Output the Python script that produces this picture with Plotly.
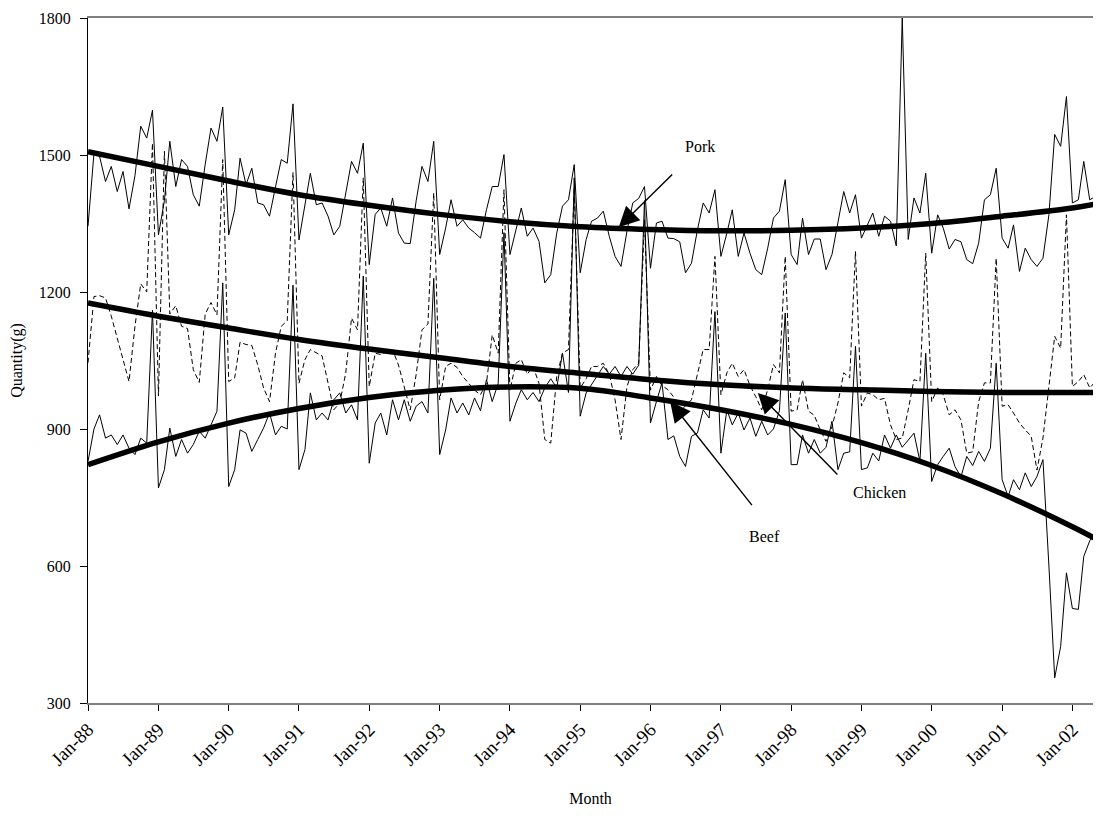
import plotly.graph_objects as go
import pandas as pd

# ---------------- data ----------------
start_month = "1988-01-01"
n_months = 174

pork = [
    1344, 1504, 1497, 1442, 1475, 1420, 1464, 1382, 1455, 1563, 1537, 1598,
    1325, 1400, 1530, 1431, 1490, 1475, 1413, 1388, 1480, 1559, 1530, 1605,
    1325, 1380, 1493, 1435, 1471, 1395, 1391, 1366, 1430, 1490, 1482, 1612,
    1314, 1390, 1460, 1391, 1395, 1366, 1325, 1344, 1420, 1486, 1460, 1526,
    1260, 1370, 1384, 1344, 1406, 1329, 1307, 1306, 1400, 1475, 1442, 1530,
    1282, 1340, 1402, 1344, 1358, 1340, 1330, 1318, 1380, 1431, 1431, 1501,
    1282, 1336, 1384, 1322, 1340, 1311, 1220, 1238, 1329, 1388, 1402, 1479,
    1242, 1315, 1355, 1362, 1377, 1322, 1278, 1256, 1333, 1395, 1405, 1431,
    1252, 1351, 1355, 1318, 1317, 1310, 1242, 1263, 1336, 1395, 1373, 1424,
    1278, 1329, 1380, 1278, 1329, 1285, 1249, 1238, 1296, 1362, 1377, 1446,
    1282, 1260, 1362, 1282, 1316, 1316, 1249, 1282, 1355, 1420, 1373, 1413,
    1318, 1345, 1373, 1322, 1366, 1355, 1301, 1800, 1315, 1406, 1373, 1460,
    1285, 1369, 1340, 1294, 1315, 1310, 1271, 1262, 1307, 1402, 1413, 1471,
    1318, 1296, 1347, 1245, 1296, 1271, 1256, 1274, 1369, 1545, 1519, 1628,
    1395, 1402, 1486, 1402, 1409, 1410,
]

beef = [
    829, 900, 931, 880, 887, 866, 887, 858, 844, 880, 869, 1160,
    771, 811, 902, 840, 877, 847, 866, 895, 880, 909, 939, 1220,
    774, 811, 898, 891, 851, 877, 902, 935, 887, 906, 900, 1215,
    811, 855, 979, 920, 935, 920, 964, 979, 935, 953, 920, 1235,
    825, 913, 935, 887, 964, 920, 964, 917, 950, 960, 935, 1230,
    844, 898, 968, 935, 957, 931, 968, 940, 1008, 960, 1000, 1330,
    917, 957, 986, 964, 980, 960, 990, 1010, 990, 1066, 980, 1450,
    928, 979, 997, 1015, 1037, 1020, 1037, 1015, 1037, 1020, 1040, 1400,
    913, 960, 1001, 877, 885, 840, 818, 884, 891, 942, 924, 1157,
    847, 942, 909, 935, 898, 924, 884, 917, 887, 900, 940, 1154,
    822, 822, 887, 847, 877, 847, 860, 917, 811, 847, 850, 1081,
    811, 815, 847, 830, 887, 858, 887, 860, 877, 891, 829, 1066,
    785, 822, 840, 858, 818, 795, 840, 820, 851, 829, 858, 1044,
    789, 752, 789, 767, 804, 774, 796, 833, 600, 355, 424, 585,
    507, 505, 621, 655, 677, 670,
]

chicken = [
    1045, 1190, 1192, 1187, 1147, 1100, 1055, 1004, 1125, 1218, 1200, 1526,
    972, 1508, 1152, 1170, 1125, 1120, 1030, 1002, 1152, 1177, 1150, 1490,
    1004, 1012, 1090, 1085, 1083, 1040, 990, 960, 1066, 1125, 1137, 1462,
    1000, 1052, 1074, 1066, 1060, 1001, 942, 957, 1023, 1143, 1117, 1450,
    993, 1066, 1063, 1070, 1074, 1040, 990, 942, 1020, 1117, 1130, 1417,
    964, 1037, 1044, 1035, 1015, 1000, 985, 975, 1000, 1106, 1066, 1424,
    985, 1044, 1052, 1020, 1037, 1000, 877, 869, 1015, 1066, 1074, 1428,
    990, 1010, 1037, 1037, 1044, 1020, 964, 877, 993, 1030, 1044, 1358,
    985, 1015, 995, 986, 970, 942, 950, 964, 1023, 1074, 1074, 1278,
    975, 1023, 1044, 1015, 1030, 995, 971, 942, 986, 1041, 1023, 1278,
    939, 942, 1008, 939, 930, 898, 873, 905, 957, 1023, 1012, 1289,
    950, 979, 975, 964, 967, 909, 877, 880, 942, 1008, 1004, 1285,
    960, 990, 975, 931, 942, 920, 847, 850, 960, 1001, 1001, 1274,
    950, 953, 935, 913, 898, 884, 810, 880, 993, 1103, 1077, 1369,
    993, 1004, 1019, 990, 1004, 1010,
]

# trend curves, read at each January and at the right edge
trend_dates = [f"{y}-01-01" for y in range(1988, 2003)] + ["2002-06-01"]
pork_trend = [1507, 1475, 1443, 1413, 1390, 1370, 1354, 1343, 1337, 1334,
              1335, 1340, 1350, 1366, 1384, 1395]
chicken_trend = [1176, 1147, 1121, 1096, 1075, 1056, 1037, 1022, 1008, 997,
                 990, 986, 982, 980, 980, 980]
beef_trend = [822, 872, 913, 945, 969, 985, 992, 989, 968, 942,
              910, 870, 820, 758, 686, 653]

tick_dates = [f"{y}-01-01" for y in range(1988, 2003)]
tick_labels = ["Jan-88", "Jan-89", "Jan-90", "Jan-91", "Jan-92", "Jan-93",
               "Jan-94", "Jan-95", "Jan-96", "Jan-97", "Jan-98", "Jan-99",
               "Jan-00", "Jan-01", "Jan-02"]
y_ticks = [300, 600, 900, 1200, 1500, 1800]

months = pd.date_range(start_month, periods=n_months, freq="MS")

FONT = "Liberation Serif, Times New Roman, serif"

fig = go.Figure()

fig.add_trace(go.Scatter(x=months, y=chicken, mode="lines", name="Chicken",
                         line=dict(color="black", width=1, dash="5px,3px")))
fig.add_trace(go.Scatter(x=months, y=beef, mode="lines", name="Beef",
                         line=dict(color="black", width=1)))
fig.add_trace(go.Scatter(x=months, y=pork, mode="lines", name="Pork",
                         line=dict(color="black", width=1)))

for tr in (pork_trend, chicken_trend, beef_trend):
    fig.add_trace(go.Scatter(x=trend_dates, y=tr, mode="lines",
                             line=dict(color="black", width=5.5,
                                       shape="spline", smoothing=1.0),
                             showlegend=False))

arrow_style = dict(showarrow=True, arrowhead=2, arrowsize=2.9, arrowwidth=1.4,
                   arrowcolor="black", text="", xref="x", yref="y")
label_font = dict(family=FONT, size=16, color="black")
annotations = [
    dict(x="1995-07-20", y=1342, ax=55, ay=-54, **arrow_style),
    dict(x="1996-04-12", y=960, ax=83, ay=105, **arrow_style),
    dict(x="1997-07-12", y=979, ax=81, ay=83, **arrow_style),
    dict(x="1996-09-14", y=1518, text="Pork", showarrow=False,
         xref="x", yref="y", font=label_font),
    dict(x="1997-08-17", y=664, text="Beef", showarrow=False,
         xref="x", yref="y", font=label_font),
    dict(x="1999-04-07", y=760, text="Chicken", showarrow=False,
         xref="x", yref="y", font=label_font),
]

# the page places the figure 8 px in from the top-left corner
fig.update_layout(
    width=1085, height=812,
    margin=dict(l=80, r=0, t=10, b=117),
    paper_bgcolor="white", plot_bgcolor="white",
    showlegend=False,
    font=dict(family=FONT, size=14, color="black"),
    annotations=annotations,
    xaxis=dict(
        type="date", automargin=False,
        range=["1988-01-01", "2002-04-18"],
        tickvals=tick_dates, ticktext=tick_labels, tickangle=-45,
        ticks="outside", ticklen=6, tickcolor="black", tickwidth=1,
        showline=True, linecolor="#808080", linewidth=2, mirror=True,
        showgrid=False, zeroline=False,
        tickfont=dict(family=FONT, size=19, color="black"),
        title=dict(text="Month", font=dict(family=FONT, size=16, color="black"),
                   standoff=24),
    ),
    yaxis=dict(
        automargin=False,
        range=[300, 1800], tickvals=y_ticks,
        ticks="outside", ticklen=7, tickcolor="black",
        ticklabelstandoff=6,
        showline=True, linecolor="black", linewidth=1,
        showgrid=False, zeroline=False,
        tickfont=dict(family=FONT, size=16, color="black"),
        title=dict(text="Quantity(g)", font=dict(family=FONT, size=16, color="black"),
                   standoff=22),
    ),
)

fig.write_html("out.html")
